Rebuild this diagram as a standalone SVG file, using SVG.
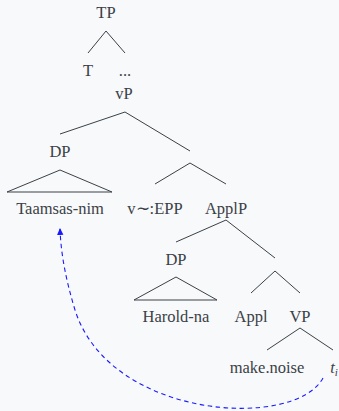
<svg xmlns="http://www.w3.org/2000/svg" width="339" height="411" viewBox="0 0 339 411">
<defs>
<style>
.t{font-family:'Liberation Serif','Times New Roman',serif;font-size:16.5px;fill:#3b4147;text-anchor:middle}
.e{stroke:#3b4147;stroke-width:1;fill:none}
.tri{stroke:#3b4147;stroke-width:1;fill:none;stroke-linejoin:miter}
.mv{stroke:#1a1aff;stroke-width:1.1;fill:none;stroke-dasharray:4.5 3.5}
</style>
<marker id="ah" markerWidth="8" markerHeight="8" refX="6" refY="4" orient="auto" markerUnits="userSpaceOnUse">
<path d="M0,0.8 L7,4 L0,7.2 Z" fill="#1a1aff"/>
</marker>
</defs>
<rect width="339" height="411" fill="#f8f9fa"/>
<g id="edges">
<path class="e" d="M106,31 L88,53 M106,31 L125,53"/>
<path class="e" d="M125,112 L60,134 M125,112 L190,151"/>
<path class="e" d="M190,163 L155,184 M190,163 L226,184"/>
<path class="e" d="M226,220 L176,242 M226,220 L275,258"/>
<path class="e" d="M275,271 L251,293 M275,271 L300,293"/>
<path class="e" d="M300,328 L267,350 M300,328 L333,350"/>
<path class="tri" d="M60,170 L7,192 L112,192 Z"/>
<path class="tri" d="M176,277 L134,300 L217,300 Z"/>
</g>
<g id="movement">
<path class="mv" marker-end="url(#ah)" d="M323,378 C295,430 110,420 75,310 C66,280 61,255 60,229"/>
</g>
<g id="labels" font-family="Liberation Serif, serif">
<g id="n-TP"><text class="t" x="106" y="18">TP</text></g>
<g id="n-T"><text class="t" x="88" y="76">T</text></g>
<g id="n-dots"><text class="t" x="125" y="76">...</text></g>
<g id="n-vP"><text class="t" x="124" y="99">vP</text></g>
<g id="n-DP1"><text class="t" x="60" y="157">DP</text></g>
<g id="n-Taamsas"><text class="t" x="60" y="214">Taamsas-nim</text></g>
<g id="n-vEPP"><text class="t" x="155" y="214">v∼:EPP</text></g>
<g id="n-ApplP"><text class="t" x="226" y="214">ApplP</text></g>
<g id="n-DP2"><text class="t" x="176" y="265">DP</text></g>
<g id="n-Harold"><text class="t" x="176" y="322">Harold-na</text></g>
<g id="n-Appl"><text class="t" x="251" y="322">Appl</text></g>
<g id="n-VP"><text class="t" x="300" y="322">VP</text></g>
<g id="n-make"><text class="t" x="267" y="373">make.noise</text></g>
<g id="n-ti"><text class="t" x="334" y="373" font-style="italic">t<tspan font-size="11" dy="3">i</tspan></text></g>
</g>
</svg>
